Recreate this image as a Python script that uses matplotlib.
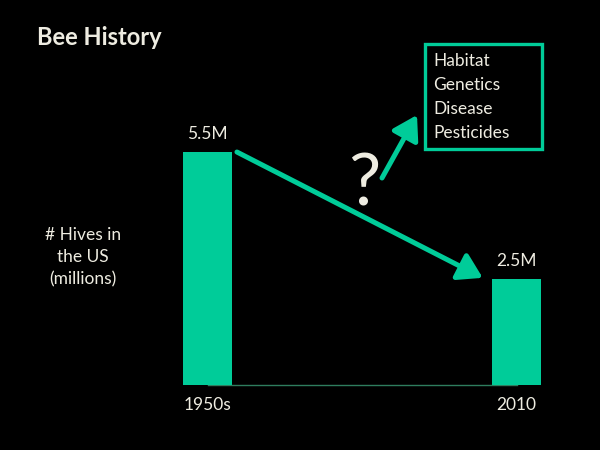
import matplotlib
matplotlib.use("Agg")
import matplotlib.pyplot as plt
from matplotlib.patches import Rectangle

categories = ["1950s", "2010"]
hives = [5.5, 2.5]
value_labels = ["5.5M", "2.5M"]
causes = ["Habitat", "Genetics", "Disease", "Pesticides"]

BAR = "#00CC99"
TXT = "#EEECE1"
plt.rcParams['font.family'] = ['Lato', 'DejaVu Sans']

W, H = 600, 450
fig = plt.figure(figsize=(6, 4.5), dpi=100, facecolor="black")

# main axes: pixel layout
px_per_x = 309.0
px_per_y = 42.36
x0c = 207.5
base = 385
xlim = (-0.2, 1.2)
ylim = (0, 6)
left = x0c + xlim[0] * px_per_x
width = (xlim[1] - xlim[0]) * px_per_x
height = (ylim[1] - ylim[0]) * px_per_y
ax = fig.add_axes([left / W, 1 - base / H, width / W, height / H])
ax.set_facecolor("black")
ax.set_xlim(*xlim)
ax.set_ylim(*ylim)
xs = list(range(len(categories)))
bw = 49 / px_per_x
ax.bar(xs, hives, width=bw, color=BAR, zorder=3)
for s in ["top", "right", "left"]:
    ax.spines[s].set_visible(False)
ax.spines["bottom"].set_color("#2E7D5E")
ax.spines["bottom"].set_linewidth(1.0)
ax.spines["bottom"].set_bounds(xs[0], xs[-1])
ax.set_yticks([])
ax.set_xticks(xs)
ax.set_xticklabels(categories, color=TXT, fontsize=12.5)
ax.tick_params(axis="x", length=0, pad=9)
for x, v, lab in zip(xs, hives, value_labels):
    ax.annotate(lab, (x, v), xytext=(0, 7), textcoords="offset points",
                ha="center", va="bottom", color=TXT, fontsize=12.5)

# decline arrow between bar tops
ax.annotate("", xy=(xs[1] - bw / 2 - 0.03, hives[1] + 0.03),
            xytext=(xs[0] + bw / 2 + 0.016, hives[0]),
            arrowprops=dict(arrowstyle="-|>,head_length=0.65,head_width=0.4",
                            color=BAR, lw=3.6, mutation_scale=22,
                            shrinkA=0, shrinkB=0), zorder=4)

# overlay in pixel coords
ov = fig.add_axes([0, 0, 1, 1])
ov.set_xlim(0, W)
ov.set_ylim(H, 0)
ov.axis("off")
ov.patch.set_alpha(0)

ov.text(37, 45, "Bee History", color=TXT, fontsize=17, fontweight="bold",
        ha="left", va="baseline")
ov.text(83, 257, "# Hives in\nthe US\n(millions)", color=TXT, fontsize=12.5,
        ha="center", va="center", linespacing=1.45, multialignment="center")
ov.text(364, 205, "?", color=TXT, fontsize=52, ha="center", va="baseline")
ov.annotate("", xy=(417, 115), xytext=(382, 178),
            arrowprops=dict(arrowstyle="-|>,head_length=0.65,head_width=0.4",
                            color=BAR, lw=3.6, mutation_scale=22,
                            shrinkA=0, shrinkB=0))
ov.add_patch(Rectangle((425, 44), 117, 105, fill=False, edgecolor=BAR, lw=2.4))
for i, c in enumerate(causes):
    ov.text(433, 66 + 24 * i, c, color=TXT, fontsize=12.5, ha="left", va="baseline")

fig.savefig("out.png", dpi=100, facecolor="black")
